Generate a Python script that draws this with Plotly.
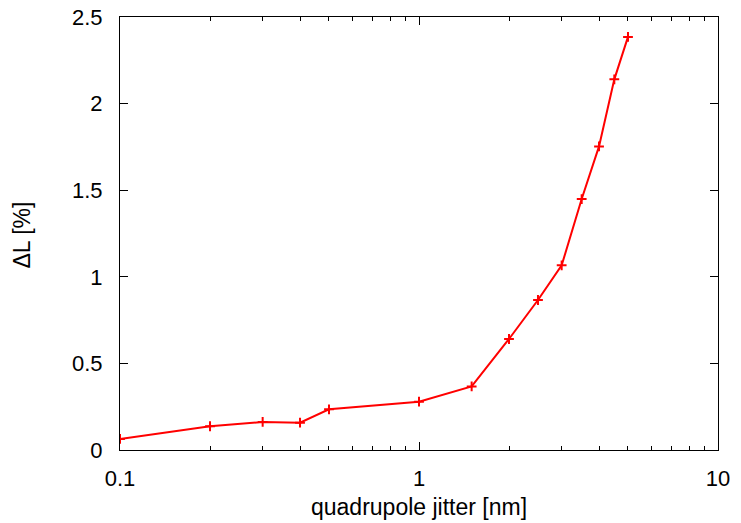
import plotly.graph_objects as go

jitter_nm = [0.1, 0.2, 0.3, 0.4, 0.5, 1.0, 1.5, 2.0, 2.5, 3.0, 3.5, 4.0, 4.5, 5.0]
delta_L = [0.064, 0.137, 0.162, 0.158, 0.235, 0.279, 0.367, 0.641, 0.866, 1.066, 1.449, 1.753, 2.140, 2.385]
x_ticks = [0.1, 1, 10]
x_ticktext = ["0.1", "1", "10"]
x_minor = [0.2, 0.3, 0.4, 0.5, 0.6, 0.7, 0.8, 0.9, 2, 3, 4, 5, 6, 7, 8, 9]
y_ticks = [0, 0.5, 1, 1.5, 2, 2.5]

FAM = "Liberation Sans, Arial, sans-serif"

fig = go.Figure()
fig.add_trace(go.Scatter(
    x=jitter_nm, y=delta_L, mode="lines+markers",
    line=dict(color="#ff0000", width=2),
    marker=dict(symbol="cross-thin", size=7, line=dict(color="#ff0000", width=2)),
    showlegend=False,
))

fig.update_layout(
    width=741, height=523,
    margin=dict(l=120, r=23, t=17, b=73),
    paper_bgcolor="white", plot_bgcolor="white",
    font=dict(family=FAM, size=22, color="#000000"),
    xaxis=dict(
        type="log", range=[-1, 1],
        tickvals=x_ticks, ticktext=x_ticktext,
        tickfont=dict(family=FAM, size=22, color="#000"),
        ticks="inside", ticklen=8, tickwidth=1, tickcolor="#000",
        minor=dict(tickvals=x_minor, ticks="inside", ticklen=4, tickcolor="#000", showgrid=False),
        showline=True, linecolor="#000", linewidth=1, mirror="ticks",
        showgrid=False, zeroline=False, automargin=False,
        ticklabelstandoff=9,
    ),
    yaxis=dict(
        range=[0, 2.5], tickvals=y_ticks,
        tickfont=dict(family=FAM, size=22, color="#000"),
        ticks="inside", ticklen=8, tickwidth=1, tickcolor="#000",
        showline=True, linecolor="#000", linewidth=1, mirror="ticks",
        showgrid=False, zeroline=False, automargin=False,
        ticklabelstandoff=12,
    ),
)
fig.add_annotation(text="quadrupole jitter [nm]", xref="paper", yref="paper",
                   x=0.5, y=-57 / 433, xanchor="center", yanchor="middle",
                   showarrow=False, font=dict(family=FAM, size=23, color="#000"))
fig.add_annotation(text="ΔL [%]", xref="paper", yref="paper",
                   x=-98 / 598, y=0.5 - 2 / 433, xanchor="center", yanchor="middle",
                   textangle=-90, showarrow=False, font=dict(family=FAM, size=23, color="#000"))

fig.write_html("out.html")
